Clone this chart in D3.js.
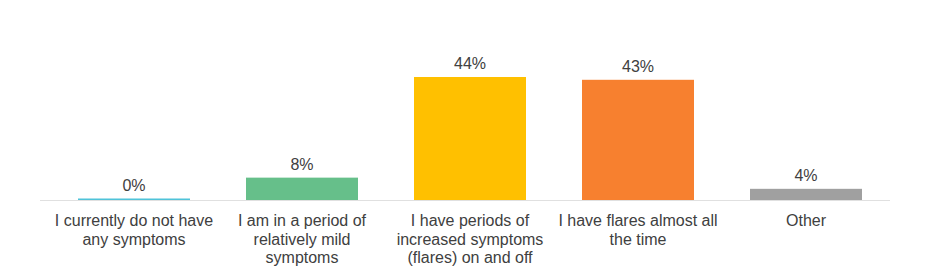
<!DOCTYPE html>
<html>
<head>
<meta charset="utf-8">
<script src="https://cdn.jsdelivr.net/npm/d3@7"></script>
<style>
  body { margin: 0; background: #fff; }
  svg text { font-family: "Liberation Sans", Arial, sans-serif; fill: #404040; }
</style>
</head>
<body>
<svg id="chart"></svg>
<script>
// chart data
const categories = [
  "I currently do not have any symptoms",
  "I am in a period of relatively mild symptoms",
  "I have periods of increased symptoms (flares) on and off",
  "I have flares almost all the time",
  "Other"
];
const categoryLines = [
  ["I currently do not have", "any symptoms"],
  ["I am in a period of", "relatively mild", "symptoms"],
  ["I have periods of", "increased symptoms", "(flares) on and off"],
  ["I have flares almost all", "the time"],
  ["Other"]
];
const values = [0, 8, 44, 43, 4];
const colors = ["#4fc3d9", "#66bf8a", "#ffc000", "#f7802f", "#a0a0a0"];

const width = 936, height = 272;
const baseY = 200;

const svg = d3.select("#chart")
  .attr("width", width)
  .attr("height", height);

const xScale = d3.scaleBand()
  .domain(categories)
  .range([50, 890])
  .paddingInner(1 / 3)
  .paddingOuter(1 / 6);

const yScale = d3.scaleLinear()
  .domain([0, 44])
  .range([baseY, 77]);

// axis line
svg.append("line")
  .attr("x1", 40).attr("x2", 890)
  .attr("y1", baseY + 0.5).attr("y2", baseY + 0.5)
  .attr("stroke", "#e0e0e0")
  .attr("stroke-width", 1);

// bars (0% still drawn as a thin line)
svg.selectAll(".bar")
  .data(values)
  .join("rect")
    .attr("class", "bar")
    .attr("x", (d, i) => xScale(categories[i]))
    .attr("width", xScale.bandwidth())
    .attr("y", d => d === 0 ? baseY - 1.5 : yScale(d))
    .attr("height", d => d === 0 ? 1.5 : baseY - yScale(d))
    .attr("fill", (d, i) => colors[i]);

// value labels
svg.selectAll(".val")
  .data(values)
  .join("text")
    .attr("class", "val")
    .attr("x", (d, i) => xScale(categories[i]) + xScale.bandwidth() / 2)
    .attr("y", d => (d === 0 ? baseY - 1 : yScale(d)) - 8)
    .attr("text-anchor", "middle")
    .attr("font-size", "16px")
    .text(d => d + "%");

// category labels
const cats = svg.selectAll(".cat")
  .data(categoryLines)
  .join("text")
    .attr("class", "cat")
    .attr("text-anchor", "middle")
    .attr("font-size", "16px")
    .attr("transform", (d, i) => `translate(${xScale(categories[i]) + xScale.bandwidth() / 2},${baseY + 26})`);

cats.selectAll("tspan")
  .data(d => d)
  .join("tspan")
    .attr("x", 0)
    .attr("y", (d, i) => i * 18.5)
    .text(d => d);
</script>
</body>
</html>
